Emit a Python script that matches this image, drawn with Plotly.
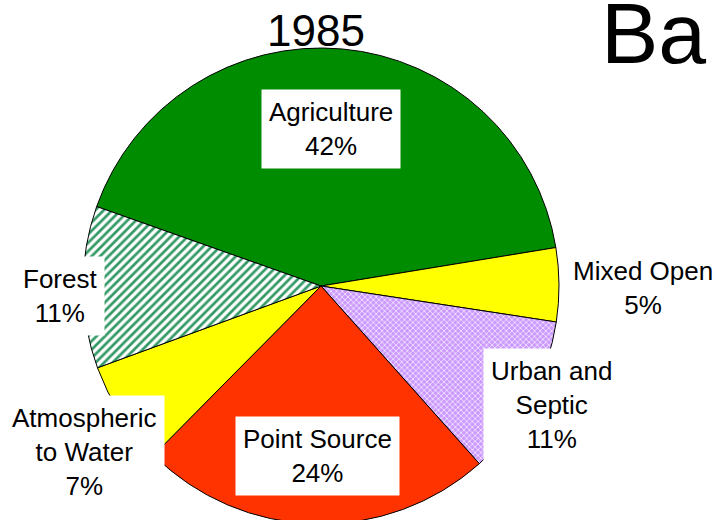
import plotly.graph_objects as go

# ---- data ----
categories = ["Agriculture", "Mixed Open", "Urban and Septic", "Point Source",
              "Atmospheric to Water", "Forest"]
label_text = ["Agriculture", "Mixed Open", "Urban and<br>Septic", "Point Source",
              "Atmospheric<br>to Water", "Forest"]
shares = [42, 5, 11, 24, 7, 11]
title_text = "1985"
corner_text = "Ba"

# ---- styles ----
W, H = 721, 530   # slightly taller than the window: the reference crops the pie bottom
fill_colors = ["#008C00", "#FFFF00", "#CC99FF", "#FF3300", "#FFFF00", "#339966"]
pattern_shapes = ["", "", "x", "", "", "/"]
pattern_fg = ["#008C00", "#FFFF00", "#FFFFFF", "#FF3300", "#FFFF00", "#339966"]
pattern_bg = ["#008C00", "#FFFF00", "#CC99FF", "#FF3300", "#FFFF00", "#FFFFFF"]
pattern_size = [6, 6, 4, 5, 6, 6]
pattern_solid = [0.3, 0.3, 0.3, 0.3, 0.3, 0.45]
label_px = [(331, 129), (643, 288), (551, 405), (317, 456), (84, 452), (60, 296)]

FONT = "Liberation Sans, Arial, sans-serif"

fig = go.Figure(go.Pie(
    labels=categories,
    values=shares,
    sort=False,
    direction="clockwise",
    rotation=-70.5,
    textinfo="none",
    hoverinfo="label+percent",
    marker=dict(
        colors=fill_colors,
        line=dict(color="black", width=1),
        pattern=dict(shape=pattern_shapes, fgcolor=pattern_fg, bgcolor=pattern_bg,
                     size=pattern_size, solidity=pattern_solid, fillmode="replace"),
    ),
    domain=dict(x=[83 / W, 559 / W], y=[(H - 524) / H, (H - 48) / H]),
    showlegend=False,
))

annotations = []
for txt, v, (px, py) in zip(label_text, shares, label_px):
    annotations.append(dict(
        text=f"{txt}<br>{v}%", x=px / W, y=1 - py / H, xref="paper", yref="paper",
        xanchor="center", yanchor="middle", showarrow=False,
        font=dict(family=FONT, size=26, color="black"),
        bgcolor="white", borderpad=7, align="center",
    ))
annotations.append(dict(
    text=title_text, x=316 / W, y=1 - 31 / H, xref="paper", yref="paper",
    xanchor="center", yanchor="middle", showarrow=False,
    font=dict(family=FONT, size=44, color="black"),
))
annotations.append(dict(
    text=corner_text, x=599 / W, y=1 - 33 / H, xref="paper", yref="paper",
    xanchor="left", yanchor="middle", showarrow=False,
    font=dict(family=FONT, size=86, color="black"),
))

fig.update_layout(
    width=W, height=H,
    margin=dict(l=0, r=0, t=0, b=0),
    paper_bgcolor="white", plot_bgcolor="white",
    annotations=annotations,
)

fig.write_html(
    "out.html",
    config={"displayModeBar": False},
    post_script="document.body.style.margin='0px';"
                "document.body.style.overflow='hidden';"
                "document.documentElement.style.overflow='hidden';",
)
